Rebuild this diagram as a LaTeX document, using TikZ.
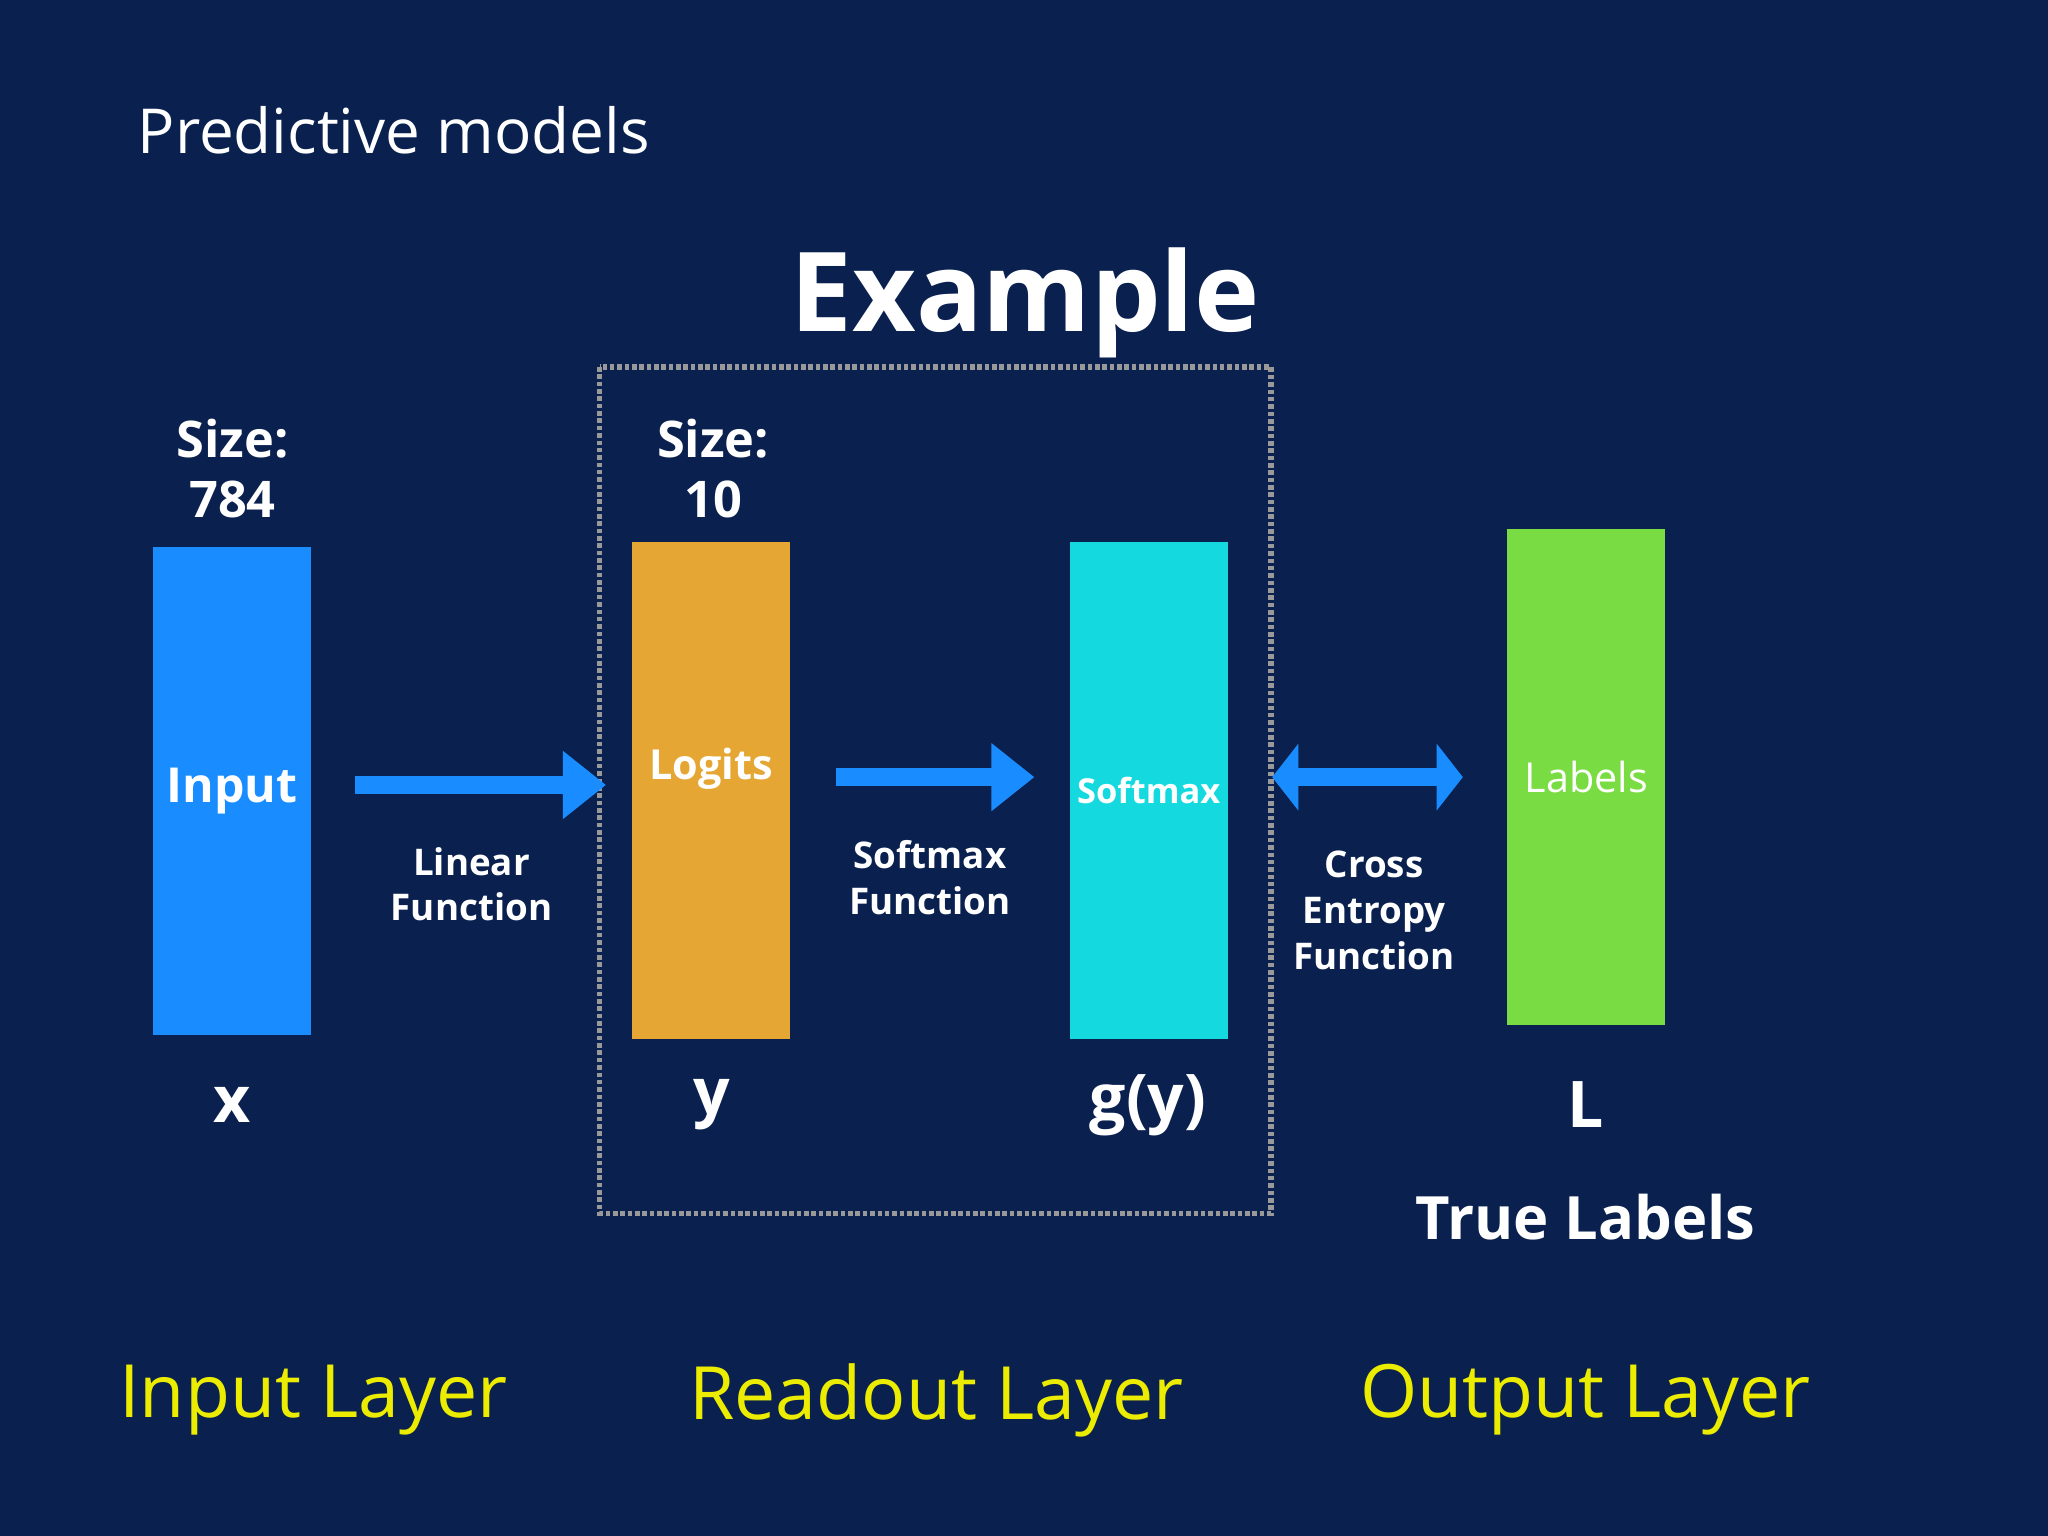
\documentclass[tikz,border=0pt]{standalone}
\usepackage{fontspec}
\setmainfont{Open Sans}
\newfontfamily\light{Open Sans Light}
\usetikzlibrary{arrows.meta}
\definecolor{bg}{RGB}{10,33,80}
\definecolor{cblue}{RGB}{25,140,255}
\definecolor{corange}{RGB}{229,166,52}
\definecolor{ccyan}{RGB}{20,218,224}
\definecolor{cgreen}{RGB}{122,220,67}
\definecolor{cyel}{RGB}{236,236,0}
\begin{document}
\begin{tikzpicture}[x=0.01cm,y=-0.01cm,
  bar/.style={minimum width=1.21cm,inner sep=0,text=white,font=\bfseries},
  arr/.style={cblue,line width=4pt,-{Triangle[width=0.5cm,length=0.33cm]}},
  darr/.style={cblue,line width=4pt,{Triangle[width=0.5cm,length=0.2cm]}-{Triangle[width=0.5cm,length=0.2cm]}},
  wt/.style={text=white,font=\bfseries,align=center},
  lay/.style={text=cyel,font=\fontsize{16}{19}\selectfont}]
\fill[bg] (0,0) rectangle (1568,1176);
\node[text=white,anchor=west,font=\fontsize{13.5}{16}\selectfont] (title) at (93,100) {Predictive models};
\node[wt,font=\bfseries\fontsize{24}{28}\selectfont] (ex) at (785,232) {Example};
\draw[gray!80!white,line width=1.2pt,dash pattern=on 1pt off 0.6pt] (459,281) rectangle (973,929);
\node[bar,fill=cblue,minimum height=3.73cm,font=\bfseries\fontsize{10.5}{12}\selectfont] (in) at (177.5,605.5) {Input};
\node[bar,fill=corange,minimum height=3.80cm,font=\bfseries\fontsize{9}{11}\selectfont] (lo) at (544.5,605) {\raisebox{1.3em}{Logits}};
\node[bar,fill=ccyan,minimum height=3.80cm,font=\bfseries\fontsize{7.5}{9}\selectfont] (sm) at (879.5,605) {Softmax};
\node[bar,fill=cgreen,minimum height=3.80cm,font=\fontsize{9}{11}\selectfont] (lb) at (1214.5,595) {\raisebox{-0.3em}{Labels}};
\node[wt,font=\bfseries\fontsize{11}{13}\selectfont] (s1) at (178,359) {Size:\\784};
\node[wt,font=\bfseries\fontsize{11}{13}\selectfont] (s2) at (546,359) {Size:\\10};
\coordinate (a1s) at (272,601); \coordinate (a1e) at (464,601);
\coordinate (a2s) at (640,595); \coordinate (a2e) at (792,595);
\coordinate (a3s) at (974,595); \coordinate (a3e) at (1120,595);
\draw[arr] (a1s) -- (a1e);
\draw[arr] (a2s) -- (a2e);
\draw[darr] (a3s) -- (a3e);
\node[wt,font=\bfseries\fontsize{8}{10}\selectfont] (f1) at (361,677) {Linear\\Function};
\node[wt,font=\bfseries\fontsize{8}{10}\selectfont] (f2) at (712,672) {Softmax\\Function};
\node[wt,font=\bfseries\fontsize{8}{10}\selectfont] (f3) at (1052,697) {Cross\\Entropy\\Function};
\node[wt,font=\bfseries\fontsize{14}{16}\selectfont] (vx) at (178,846) {x};
\node[wt,font=\bfseries\fontsize{14}{16}\selectfont] (vy) at (545,846) {y};
\node[wt,font=\bfseries\fontsize{14}{16}\selectfont] (vg) at (879,846) {g(y)};
\node[wt,font=\bfseries\fontsize{14}{16}\selectfont] (vl) at (1214,846) {L};
\node[wt,font=\bfseries\fontsize{13}{15}\selectfont] (tl) at (1214,932) {True Labels};
\node[lay] (l1) at (240,1072) {Input Layer};
\node[lay] (l2) at (717,1072) {Readout Layer};
\node[lay] (l3) at (1214,1072) {Output Layer};
\end{tikzpicture}
\end{document}
